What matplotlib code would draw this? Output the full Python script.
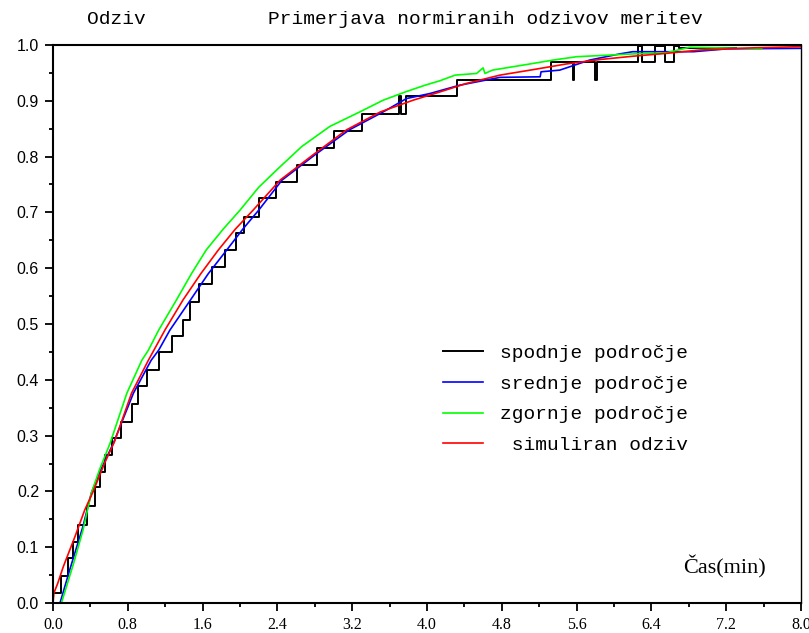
import matplotlib
matplotlib.use("Agg")
import numpy as np
import matplotlib.pyplot as plt
from matplotlib.font_manager import FontProperties

# series (time in min, normalised response)
black_t = [0.00, 0.09, 0.16, 0.21, 0.27, 0.36, 0.45, 0.50, 0.556, 0.63, 0.73, 0.84, 0.91,
           1.01, 1.13, 1.27, 1.39, 1.47, 1.56, 1.70, 1.84, 1.96, 2.04, 2.20, 2.39, 2.61,
           2.82, 3.00, 3.30, 3.70, 3.72, 3.78, 4.32, 5.33, 5.56, 5.575, 5.80, 5.815,
           6.26, 6.30, 6.44, 6.55, 6.64, 6.70, 7.30]
black_y = [0.018, 0.048, 0.080, 0.110, 0.140, 0.173, 0.208, 0.235, 0.265, 0.296, 0.325,
           0.357, 0.388, 0.418, 0.450, 0.478, 0.508, 0.540, 0.572, 0.603, 0.633, 0.663,
           0.692, 0.725, 0.755, 0.785, 0.815, 0.845, 0.877, 0.908, 0.877, 0.908, 0.937,
           0.970, 0.937, 0.970, 0.937, 0.970, 0.998, 0.970, 0.998, 0.970, 0.998, 0.995,
           0.995]

blue_t = [0.075, 0.18, 0.32, 0.41, 0.50, 0.645, 0.86, 1.05, 1.13, 1.25, 1.47, 1.66, 1.86,
          2.03, 2.20, 2.45, 2.80, 3.17, 3.53, 3.78, 4.03, 4.35, 4.78, 5.21, 5.22, 5.42,
          5.74, 6.06, 6.20, 6.85, 7.20, 8.00]
blue_y = [0.000, 0.060, 0.137, 0.197, 0.235, 0.286, 0.376, 0.435, 0.453, 0.489, 0.543,
          0.590, 0.633, 0.670, 0.704, 0.758, 0.803, 0.848, 0.880, 0.904, 0.913, 0.928,
          0.942, 0.943, 0.952, 0.955, 0.973, 0.984, 0.988, 0.988, 0.993, 0.994]

green_t = [0.09, 0.22, 0.32, 0.41, 0.50, 0.61, 0.79, 0.95, 1.02, 1.13, 1.32, 1.48, 1.64,
           1.82, 2.00, 2.20, 2.43, 2.66, 2.96, 3.28, 3.53, 3.77, 3.98, 4.14, 4.30, 4.53,
           4.60, 4.62, 4.70, 5.10, 5.35, 5.60, 6.20, 6.56, 6.81, 7.58]
green_y = [0.000, 0.071, 0.130, 0.197, 0.240, 0.286, 0.376, 0.435, 0.453, 0.489, 0.543,
           0.590, 0.633, 0.670, 0.704, 0.745, 0.782, 0.818, 0.854, 0.880, 0.901, 0.916,
           0.928, 0.936, 0.946, 0.949, 0.959, 0.949, 0.955, 0.966, 0.973, 0.979, 0.984,
           0.986, 0.996, 0.993]

red_t = [0.00, 0.01, 0.05, 0.11, 0.235, 0.34, 0.43, 0.55, 0.66, 0.84, 1.02, 1.20, 1.39,
         1.58, 1.77, 1.95, 2.14, 2.43, 2.78, 3.14, 3.50, 3.85, 4.14, 4.42, 4.78, 5.14,
         5.49, 5.85, 6.21, 6.56, 6.92, 7.50, 8.00]
red_y = [0.000, 0.018, 0.035, 0.065, 0.119, 0.167, 0.200, 0.250, 0.290, 0.376, 0.435,
         0.490, 0.543, 0.590, 0.633, 0.670, 0.704, 0.758, 0.803, 0.848, 0.880, 0.901,
         0.916, 0.931, 0.946, 0.956, 0.966, 0.974, 0.980, 0.985, 0.991, 0.995, 0.997]

labels = ['spodnje področje', 'srednje področje', 'zgornje področje', ' simuliran odziv']
x_ticks = np.arange(0, 8.01, 0.8)
y_ticks = np.arange(0, 1.01, 0.1)

fig = plt.figure(figsize=(8.09, 6.33), dpi=100)
ax = fig.add_axes([53/809, 30/633, 748/809, 558/633])

l1, = ax.step(black_t, black_y, where='post', color='black', lw=1.4)
l2, = ax.plot(blue_t, blue_y, color='#0000ff', lw=1.2)
l3, = ax.plot(green_t, green_y, color='#00ff00', lw=1.2)
l4, = ax.plot(red_t, red_y, color='#ff0000', lw=1.2)

ax.set_xlim(0, 8.0)
ax.set_ylim(0, 1.0)
ax.set_xticks(x_ticks)
ax.set_xticklabels(['%.1f' % v for v in x_ticks], family='Liberation Serif', fontsize=11.5)
ax.set_yticks(y_ticks)
ax.set_yticklabels(['%.1f' % v for v in y_ticks], family='Liberation Sans', fontsize=11.5)
ax.set_xticks(np.arange(0.4, 8.0, 0.8), minor=True)
ax.set_yticks(np.arange(0.05, 1.0, 0.1), minor=True)
ax.tick_params(which='major', direction='out', length=6, width=1.3, pad=4)
ax.tick_params(which='minor', direction='out', length=3, width=1.3)
ax.tick_params(top=False, right=False)
for s in ax.spines.values():
    s.set_linewidth(1.5)
ax.spines['right'].set_linewidth(1.0)

mono = FontProperties(family='Liberation Mono', size=14)
ax.legend([l1, l2, l3, l4], labels, loc='upper left', bbox_to_anchor=(0.521, 0.464),
          frameon=False, prop=mono, handlelength=2.06, handletextpad=0.9,
          labelspacing=0.68, borderpad=0, borderaxespad=0)

ax.text(0.898, 0.0645, 'Čas(min)', transform=ax.transAxes, ha='center', va='center',
        family='Liberation Serif', fontsize=16)
fig.text(116/809, 1 - 20/633, 'Odziv', ha='center', va='center',
         family='Liberation Mono', fontsize=14)
fig.text(485/809, 1 - 20/633, 'Primerjava normiranih odzivov meritev', ha='center',
         va='center', family='Liberation Mono', fontsize=14)

fig.savefig('out.png', dpi=100)
